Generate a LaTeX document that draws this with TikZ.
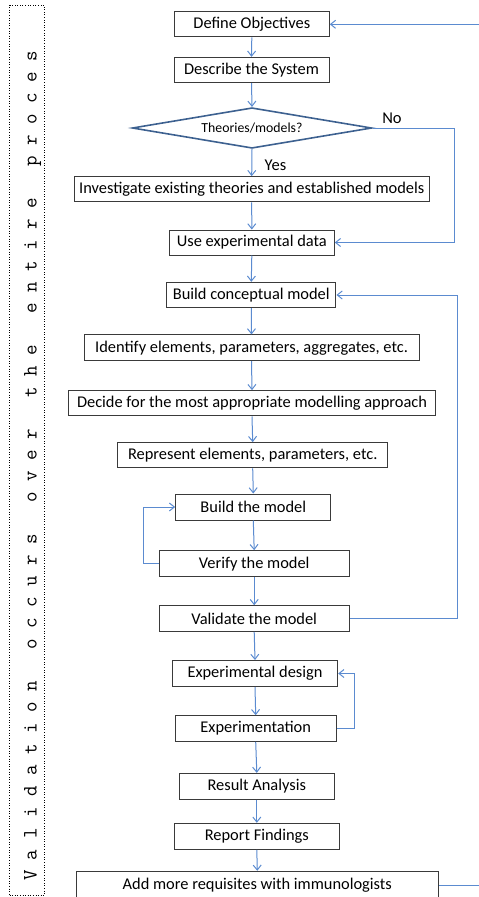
\documentclass[tikz,border=0pt]{standalone}
\usepackage{fontspec}
\setmainfont{Carlito}
\usetikzlibrary{arrows.meta,shapes.geometric}
\definecolor{conn}{HTML}{5B8BD0}
\definecolor{boxline}{HTML}{3A3A3A}
\definecolor{diaml}{HTML}{3D6190}
\tikzset{
  stepbox/.style={draw=boxline,line width=1pt,rectangle,inner sep=0pt,align=center,
    font=\fontsize{16.4}{18}\selectfont},
  link/.style={draw=conn,line width=1pt,-{Straight Barb[length=5pt,width=8pt]}},
  plainlink/.style={draw=conn,line width=1pt},
  lbl/.style={inner sep=0pt,font=\fontsize{16.5}{18}\selectfont}
}
\begin{document}
\begin{tikzpicture}[x=1pt,y=-1pt]
\useasboundingbox (0,0) rectangle (479,897);
% left frame
\node[draw,dotted,line width=0.6pt,minimum width=34.8pt,minimum height=890.3pt,inner sep=0pt] (frame) at (26.9,450.2) {};
\node[rotate=90,anchor=base,inner sep=0pt,font=\ttfamily\fontsize{20.4}{22}\selectfont] (vtext) at (36.5,466)
 {V~a~l~i~d~a~t~i~o~n~~~o~c~c~u~r~s~~~o~v~e~r~~~t~h~e~~~e~n~t~i~r~e~~~p~r~o~c~e~s};
% boxes
\node[stepbox,minimum width=155pt,minimum height=25.3pt] (def) at (251.8,24.3) {Define Objectives};
\node[stepbox,minimum width=155pt,minimum height=25.4pt] (desc) at (251.5,70) {Describe the System};
\node[diamond,aspect=5.9,draw=diaml,line width=1.6pt,minimum width=239.4pt,minimum height=40.6pt,inner sep=0pt,
  font=\fontsize{13.8}{15}\selectfont] (dia) at (252,128) {Theories/models?};
\node[stepbox,minimum width=355.3pt,minimum height=25.3pt] (inv) at (251.7,189.3) {Investigate existing theories and established models};
\node[stepbox,minimum width=165pt,minimum height=25pt] (use) at (251.8,242.5) {Use experimental data};
\node[stepbox,minimum width=169.3pt,minimum height=25.4pt] (bcm) at (251.3,295) {Build conceptual model};
\node[stepbox,minimum width=335pt,minimum height=25.7pt] (ident) at (251.5,347.8) {Identify elements, parameters, aggregates, etc.};
\node[stepbox,minimum width=367.4pt,minimum height=25.3pt] (decide) at (252,403.3) {Decide for the most appropriate modelling approach};
\node[stepbox,minimum width=270pt,minimum height=25.3pt] (repr) at (252.7,455.3) {Represent elements, parameters, etc.};
\node[stepbox,minimum width=155.3pt,minimum height=26pt] (btm) at (253.3,507) {Build the model};
\node[stepbox,minimum width=190.3pt,minimum height=26pt] (ver) at (254.2,563.7) {Verify the model};
\node[stepbox,minimum width=190.3pt,minimum height=25.6pt] (val) at (254.2,618.5) {Validate the model};
\node[stepbox,minimum width=165.4pt,minimum height=26pt] (expd) at (255,673.5) {Experimental design};
\node[stepbox,minimum width=160.7pt,minimum height=25.6pt] (expt) at (255.7,728.5) {Experimentation};
\node[stepbox,minimum width=155pt,minimum height=25.7pt] (res) at (256.8,786.2) {Result Analysis};
\node[stepbox,minimum width=165pt,minimum height=26pt] (rep) at (256.8,836.3) {Report Findings};
\node[stepbox,minimum width=362.5pt,minimum height=28pt] (add) at (257.3,885.3) {Add more requisites with immunologists};
% labels
\node[lbl] (no) at (392,118) {No};
\node[lbl] (yes) at (275.5,165.5) {Yes};
% bend points
\coordinate (nox) at (454,0);
\coordinate (valx) at (457.3,0);
\coordinate (verx) at (143.3,0);
\coordinate (expx) at (354,0);
\coordinate (topin) at (479,24.3);
\coordinate (botout) at (479,885);
% main flow
\draw[link] (def.south) -- (desc.north);
\draw[link] (desc.south) -- (dia.north);
\draw[link] (dia.south) -- (inv.north);
\draw[link] (inv.south) -- (use.north);
\draw[link] (use.south) -- (bcm.north);
\draw[link] (bcm.south) -- (ident.north);
\draw[link] (ident.south) -- (decide.north);
\draw[link] (decide.south) -- (repr.north);
\draw[link] (repr.south) -- (btm.north);
\draw[link] (btm.south) -- (ver.north);
\draw[link] (ver.south) -- (val.north);
\draw[link] (val.south) -- (expd.north);
\draw[link] (expd.south) -- (expt.north);
\draw[link] (expt.south) -- (res.north);
\draw[link] (res.south) -- (rep.north);
\draw[link] (rep.south) -- (add.north);
% loops
\draw[link] (dia.east) -- (dia.east -| nox) |- (use.east);
\draw[link] (val.east) -- (val.east -| valx) |- (bcm.east);
\draw[link] (ver.west) -- (ver.west -| verx) |- (btm.west);
\draw[link] (expt.east) -- (expt.east -| expx) |- (expd.east);
\draw[link] (topin) -- (def.east);
\draw[plainlink] (add.east |- botout) -- (botout);
\end{tikzpicture}
\end{document}
